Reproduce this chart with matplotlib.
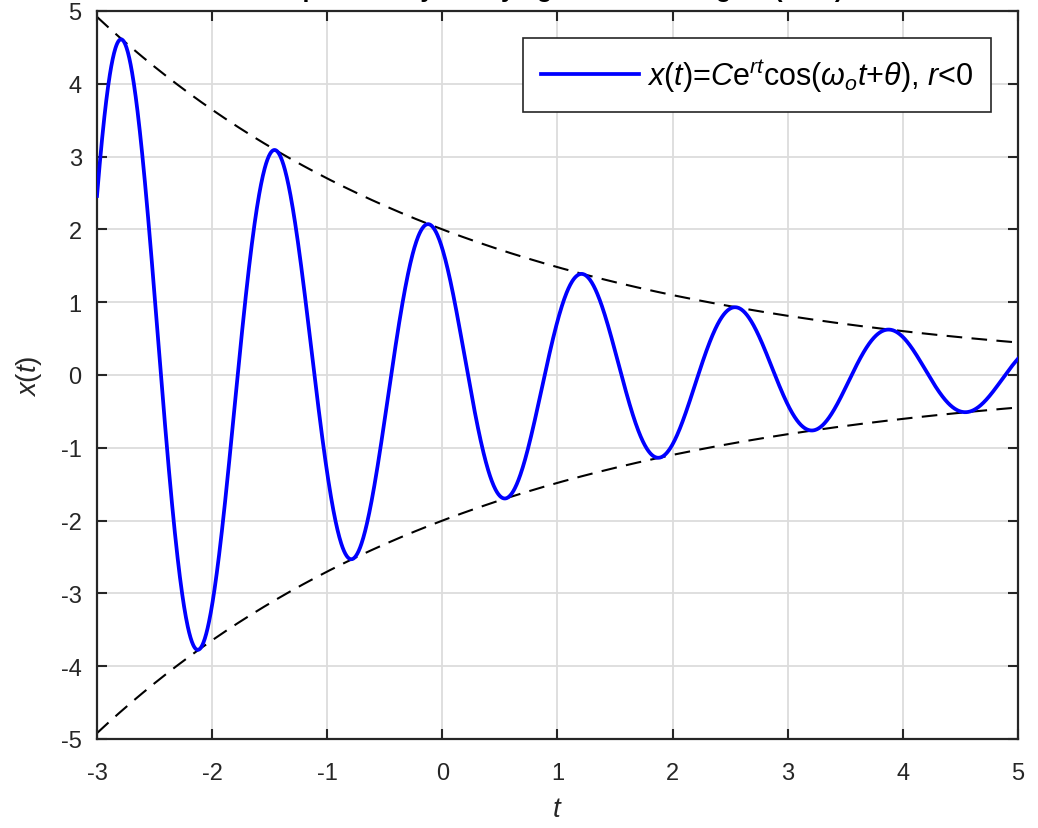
import matplotlib
matplotlib.use('Agg')
import matplotlib.pyplot as plt
import numpy as np

plt.rcParams['font.family'] = ['Liberation Sans', 'DejaVu Sans']
plt.rcParams['mathtext.fontset'] = 'custom'
plt.rcParams['mathtext.rm'] = 'Liberation Sans'
plt.rcParams['mathtext.it'] = 'Liberation Sans:italic'
plt.rcParams['axes.unicode_minus'] = False

# parameters
C = 2.0              # amplitude at t = 0
r = -0.3             # decay rate
omega = 1.5 * np.pi  # angular frequency (period ~1.33)
theta = np.pi / 6    # phase
t_min, t_max = -3, 5

x_ticks = [-3, -2, -1, 0, 1, 2, 3, 4, 5]
y_ticks = [-5, -4, -3, -2, -1, 0, 1, 2, 3, 4, 5]

t = np.linspace(t_min, t_max, 2000)
env = C * np.exp(r * t)
x = env * np.cos(omega * t + theta)

fig = plt.figure(figsize=(10.38, 8.29), dpi=100)
ax = fig.add_axes([97/1038, 1 - 740/829, (1018 - 97)/1038, (740 - 12)/829])

ax.plot(t, x, color=(0, 0, 1), lw=2.7,
        label=r'$x(t)$=$C$e$^{rt}$cos($\omega_{o}t$+$\theta$), $r$<0', zorder=3)
ax.plot(t, env, 'k', lw=1.5, dashes=(7.5, 4.5), zorder=2)
ax.plot(t, -env, 'k', lw=1.5, dashes=(7.5, 4.5), zorder=2)

ax.set_xlim(t_min, t_max)
ax.set_ylim(-5, 5)
ax.set_xticks(x_ticks)
ax.set_yticks(y_ticks)
ax.grid(True, color='#dcdcdc', lw=1.3)
ax.set_axisbelow(True)
ax.tick_params(direction='in', length=7, width=1.5, top=True, right=True,
               labelsize=17, colors='#262626')
ax.tick_params(axis='x', pad=16.5)
ax.tick_params(axis='y', pad=11)
for s in ax.spines.values():
    s.set_linewidth(1.6)
    s.set_color('#262626')

ax.set_xlabel('$t$', fontsize=20, color='#262626', labelpad=9)
ax.set_ylabel('$x(t)$', fontsize=20, color='#262626', labelpad=12)

leg = ax.legend(loc='upper right', fontsize=22, fancybox=False, framealpha=1,
                edgecolor='#262626', handlelength=3.2, handletextpad=0.25,
                borderpad=0.6, borderaxespad=0,
                bbox_to_anchor=((991 - 97) / 921, (740 - 39) / 728))
leg.get_frame().set_linewidth(1.2)

# title sits mostly above the visible canvas (only descenders show)
fig.text(0.537, 1 + 3/829, 'Exponentially Decaying Sinusoidal Signal (r < 0)',
         ha='center', va='baseline', fontsize=18, fontweight='bold')

fig.savefig('out.png', dpi=100)
